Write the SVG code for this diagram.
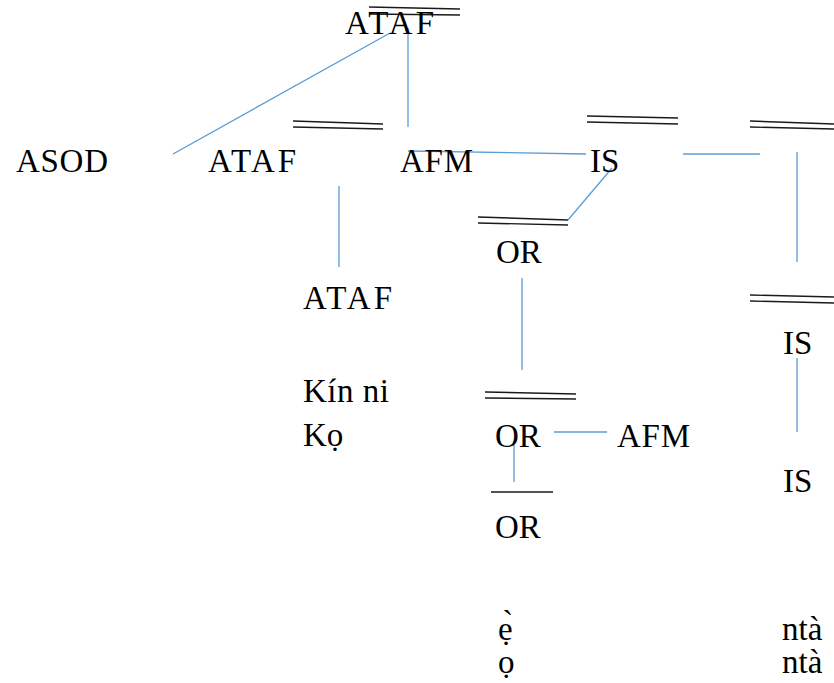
<svg xmlns="http://www.w3.org/2000/svg" width="834" height="683" viewBox="0 0 834 683">
  <style>
    .lbl { font-family: "Liberation Serif", Tinos, "Nimbus Roman", FreeSerif, Times, "Noto Serif", "DejaVu Serif", serif; font-size: 33px; fill: #000; }
    .bar line { stroke: #1a1a1a; stroke-width: 1.4; }
    #connectors line { stroke: #5b9bd5; stroke-width: 1.3; }
  </style>
  <rect width="834" height="683" fill="#fff"/>

  <!-- overbars drawn above labels -->
  <g class="bar" id="bars">
    <line x1="369" y1="7" x2="460" y2="9"/>
    <line x1="369" y1="14" x2="460" y2="15"/>
    <line x1="293" y1="121" x2="383" y2="124"/>
    <line x1="293" y1="127" x2="383" y2="129"/>
    <line x1="587" y1="116" x2="678" y2="118"/>
    <line x1="587" y1="122" x2="678" y2="124"/>
    <line x1="750" y1="121" x2="834" y2="124"/>
    <line x1="750" y1="127" x2="834" y2="129"/>
    <line x1="478" y1="217" x2="568" y2="220"/>
    <line x1="478" y1="223" x2="568" y2="225"/>
    <line x1="750" y1="295" x2="834" y2="297"/>
    <line x1="750" y1="301" x2="834" y2="303"/>
    <line x1="485" y1="392" x2="576" y2="394"/>
    <line x1="485" y1="398" x2="576" y2="399"/>
    <line x1="491" y1="492" x2="553" y2="492"/>
  </g>

  <g id="connectors">
    <line x1="390" y1="33" x2="173" y2="154"/>
    <line x1="408" y1="28" x2="408" y2="127"/>
    <line x1="408" y1="151" x2="586" y2="154"/>
    <line x1="612" y1="168" x2="568" y2="220"/>
    <line x1="683" y1="154" x2="760" y2="154"/>
    <line x1="797" y1="152" x2="797" y2="262"/>
    <line x1="339" y1="186" x2="339" y2="267"/>
    <line x1="522" y1="278" x2="522" y2="370"/>
    <line x1="554" y1="432" x2="607" y2="432"/>
    <line x1="514" y1="442" x2="514" y2="482"/>
    <line x1="797" y1="358" x2="797" y2="432"/>
  </g>

  <g class="lbl">
    <g id="n-ataf-top"><text x="345" y="34" textLength="89" lengthAdjust="spacing">ATAF</text></g>
    <g id="n-asod"><text x="16" y="172" textLength="92" lengthAdjust="spacing">ASOD</text></g>
    <g id="n-ataf-mid"><text x="208" y="172" textLength="88" lengthAdjust="spacing">ATAF</text></g>
    <g id="n-afm-mid"><text x="400" y="172" textLength="73" lengthAdjust="spacing">AFM</text></g>
    <g id="n-is-mid"><text x="590" y="172">IS</text></g>
    <g id="n-or-1"><text x="496" y="263">OR</text></g>
    <g id="n-ataf-low"><text x="303" y="309" textLength="89" lengthAdjust="spacing">ATAF</text></g>
    <g id="n-is-right"><text x="783" y="354">IS</text></g>
    <g id="n-kin"><text x="303" y="402" textLength="86" lengthAdjust="spacing">Kín ni</text></g>
    <g id="n-ko"><text x="303" y="446">Kọ</text></g>
    <g id="n-or-2"><text x="495" y="447">OR</text></g>
    <g id="n-afm-low"><text x="617" y="447" textLength="73" lengthAdjust="spacing">AFM</text></g>
    <g id="n-is-low"><text x="783" y="492">IS</text></g>
    <g id="n-or-3"><text x="495" y="538">OR</text></g>
    <g id="n-e"><text x="498" y="640">ẹ̀</text></g>
    <g id="n-o"><text x="498" y="673">ọ</text></g>
    <g id="n-nta-1"><text x="782" y="640">ntà</text></g>
    <g id="n-nta-2"><text x="782" y="673">ntà</text></g>
  </g>
</svg>
